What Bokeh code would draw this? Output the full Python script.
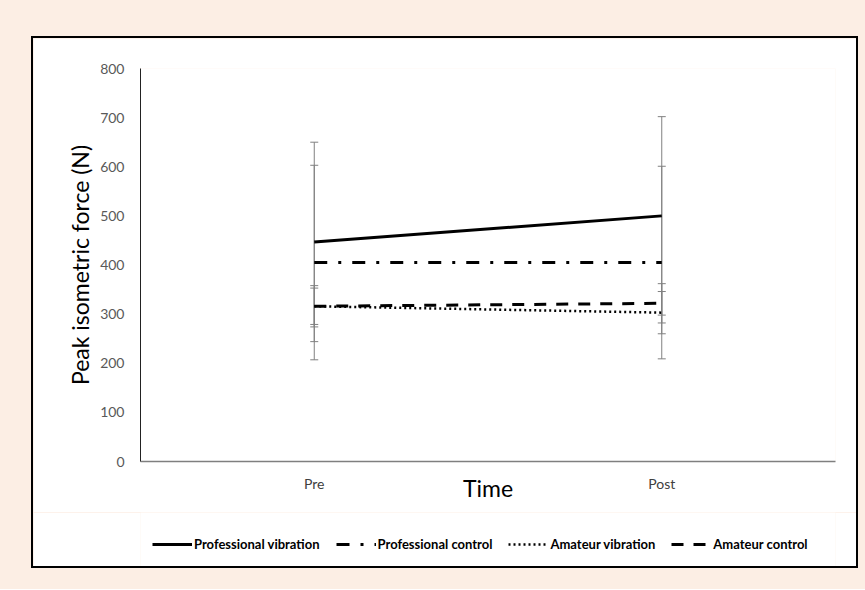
from bokeh.plotting import figure
from bokeh.models import (ColumnDataSource, Whisker, TeeHead, Legend, LegendItem,
                          FactorRange, Range1d, FixedTicker)
from bokeh.layouts import column
from bokeh.embed import file_html
from bokeh.resources import INLINE

# ---- data ----
times = ["Pre", "Post"]
series_names = ["Professional vibration", "Professional control",
                "Amateur vibration", "Amateur control"]
prof_vib = [447, 500]
prof_vib_err = [203, 202]
prof_ctrl = [405, 405]
prof_ctrl_err = [198, 196]
am_vib = [316, 303]
am_vib_err = [42, 43]
am_ctrl = [316, 322]
am_ctrl_err = [37, 40]
y_ticks = [0, 100, 200, 300, 400, 500, 600, 700, 800]

FONT = "Lato"

p = figure(width=823, height=474, x_range=FactorRange(*times, range_padding=0),
           y_range=Range1d(0, 800), output_backend="svg", toolbar_location=None,
           background_fill_color="white", border_fill_color="white",
           outline_line_color=None,
           min_border_left=107, min_border_right=21, min_border_top=30,
           min_border_bottom=51)
p.xgrid.visible = False
p.ygrid.visible = False

styles = [("solid", 3), ("13 11 3 11", 3), ("2 3", 2.5), ("12 10", 3)]
series = [(prof_vib, prof_vib_err), (prof_ctrl, prof_ctrl_err),
          (am_vib, am_vib_err), (am_ctrl, am_ctrl_err)]

# legend-only strip below the chart (its lines lie outside its visible range)
leg_fig = figure(width=823, height=54, x_range=FactorRange(*times),
                 y_range=Range1d(1000, 1100), output_backend="svg",
                 toolbar_location=None, x_axis_location=None,
                 y_axis_location=None, min_border=0,
                 outline_line_color=None,
                 background_fill_color="white", border_fill_color="white")
leg_fig.xgrid.visible = False
leg_fig.ygrid.visible = False

leg_renderers = []
for (vals, errs), (dash, lw) in zip(series, styles):
    src = ColumnDataSource(dict(
        x=times, y=vals,
        upper=[v + e for v, e in zip(vals, errs)],
        lower=[v - e for v, e in zip(vals, errs)]))
    w = Whisker(base="x", upper="upper", lower="lower", source=src,
                line_color="#808080", line_width=1,
                upper_head=TeeHead(size=8, line_color="#808080", line_width=1),
                lower_head=TeeHead(size=8, line_color="#808080", line_width=1))
    p.add_layout(w)
    p.line("x", "y", source=src, line_color="black", line_width=lw,
           line_dash=dash)
    lr = leg_fig.line("x", "y", source=src, line_color="black", line_width=lw,
                      line_dash=dash)
    leg_renderers.append(lr)

# axes
p.yaxis.ticker = FixedTicker(ticks=y_ticks)
p.yaxis.major_tick_line_color = None
p.yaxis.minor_tick_line_color = None
p.yaxis.axis_line_color = "#222222"
p.yaxis.axis_line_width = 1
p.yaxis.major_label_standoff = 10
p.yaxis.major_label_text_font = FONT
p.yaxis.major_label_text_font_size = "14px"
p.yaxis.major_label_text_color = "#595959"
p.yaxis.axis_label = "Peak isometric force (N)"
p.yaxis.axis_label_text_font = FONT
p.yaxis.axis_label_text_font_size = "23px"
p.yaxis.axis_label_text_font_style = "normal"
p.yaxis.axis_label_text_color = "black"
p.yaxis.axis_label_standoff = 3

p.xaxis.major_tick_line_color = None
p.xaxis.minor_tick_line_color = None
p.xaxis.axis_line_color = "#7f7f7f"
p.xaxis.axis_line_width = 1.5
p.xaxis.major_label_standoff = 7
p.xaxis.major_label_text_font = FONT
p.xaxis.major_label_text_font_size = "14px"
p.xaxis.major_label_text_color = "#404040"
p.xaxis.axis_label = "Time"
p.xaxis.axis_label_text_font = FONT
p.xaxis.axis_label_text_font_size = "23px"
p.xaxis.axis_label_text_font_style = "normal"
p.xaxis.axis_label_text_color = "black"
p.xaxis.axis_label_standoff = -21

legend = Legend(items=[LegendItem(label=n, renderers=[r])
                       for n, r in zip(series_names, leg_renderers)],
                orientation="horizontal", location=(12, 12),
                padding=0, margin=0, spacing=16, glyph_width=40,
                label_standoff=2, border_line_color=None,
                background_fill_alpha=0,
                label_text_font=FONT, label_text_font_style="bold",
                label_text_font_size="13px", label_text_color="black")
leg_fig.add_layout(legend, "center")

inner = column(p, leg_fig, spacing=0, styles={"border": "2px solid #000000"})
outer = column(inner, styles={"background-color": "#FCEEE4",
                              "padding": "36px 7px 21px 31px"})

open("out.html", "w").write(file_html(outer, INLINE))
